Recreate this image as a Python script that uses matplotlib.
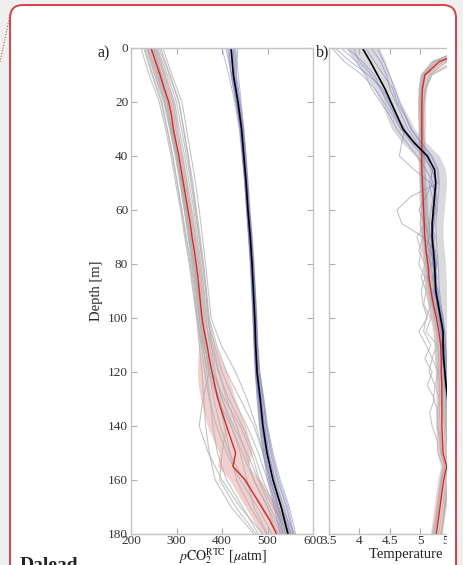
import matplotlib
matplotlib.use("Agg")
import matplotlib.pyplot as plt
from matplotlib.patches import FancyBboxPatch, Rectangle
from matplotlib.lines import Line2D

plt.rcParams['font.family'] = ['Liberation Serif', 'DejaVu Serif']
plt.rcParams['mathtext.fontset'] = 'stix'

depth10 = list(range(0, 181, 10))
depth5 = list(range(0, 181, 5))

# ---- panel a: pCO2 profiles ----
pco2_red_mean = [244, 254, 264, 273, 283, 289, 293, 299, 305, 310, 315, 320, 325, 330, 334, 339, 343,
                 347, 350, 353, 356, 361, 367, 372, 378, 384, 391, 400, 410, 420, 430, 424, 451, 469,
                 487, 505, 520]
pco2_red_sd = [14, 14, 14, 13, 12, 11, 10, 10, 10, 10, 10, 10, 10, 10, 10, 10, 10, 10, 10, 10, 10, 14,
               18, 25, 32, 36, 38, 40, 42, 40, 36, 33, 34, 35, 36, 36, 36]
pco2_gray = [
    [230, 248, 268, 280, 292, 302, 312, 322, 332, 340, 346, 354, 362, 372, 388, 410, 440, 478, 510],
    [255, 275, 296, 306, 318, 328, 338, 346, 354, 361, 368, 380, 394, 410, 432, 452, 470, 500, 530],
    [238, 258, 276, 288, 300, 311, 321, 330, 339, 347, 353, 362, 372, 382, 396, 416, 448, 490, 525],
    [262, 284, 305, 316, 326, 336, 344, 352, 360, 366, 372, 388, 410, 440, 470, 490, 505, 525, 545],
    [222, 240, 262, 276, 288, 298, 309, 318, 328, 336, 344, 350, 356, 360, 364, 372, 385, 420, 470],
    [248, 268, 288, 298, 310, 320, 330, 339, 348, 355, 362, 376, 392, 415, 445, 470, 490, 515, 540],
    [235, 252, 272, 285, 298, 309, 318, 327, 336, 344, 350, 358, 366, 374, 380, 390, 410, 445, 480],
    [270, 290, 312, 322, 332, 342, 350, 357, 364, 370, 376, 398, 430, 455, 475, 490, 505, 530, 560],
    [245, 262, 280, 290, 302, 312, 322, 331, 340, 348, 355, 364, 372, 358, 350, 370, 400, 440, 490],
    [252, 272, 292, 302, 313, 323, 333, 342, 351, 358, 365, 372, 382, 400, 425, 455, 480, 505, 535],
    [228, 246, 266, 279, 291, 301, 311, 320, 330, 338, 345, 356, 370, 390, 420, 440, 455, 470, 500],
    [258, 280, 300, 311, 322, 332, 341, 349, 357, 364, 370, 384, 400, 425, 455, 480, 500, 520, 550],
    [242, 260, 279, 290, 301, 311, 320, 329, 337, 345, 351, 360, 374, 395, 410, 400, 395, 430, 475],
    [265, 286, 306, 315, 325, 334, 342, 350, 358, 365, 370, 376, 385, 400, 420, 445, 470, 500, 520],
    [250, 266, 284, 294, 306, 317, 327, 336, 345, 352, 359, 368, 378, 392, 405, 418, 432, 462, 498],
    [236, 256, 274, 287, 299, 308, 317, 326, 334, 342, 349, 360, 378, 405, 440, 465, 482, 512, 548],
]
pco2_black_mean = [420, 425, 435, 443, 448, 453, 457, 462, 466, 469, 472, 474, 477, 484, 490, 499, 512, 530, 545]
pco2_black_sd = [8, 6, 5, 5, 5, 5, 5, 5, 5, 5, 5, 5, 6, 8, 9, 10, 11, 12, 12]
pco2_blue = [
    [412, 420, 430, 440, 446, 451, 455, 460, 464, 467, 470, 472, 475, 480, 486, 494, 506, 522, 535],
    [428, 432, 440, 447, 452, 456, 460, 465, 469, 472, 475, 477, 481, 490, 497, 507, 522, 542, 556],
    [400, 415, 428, 438, 444, 450, 454, 459, 463, 466, 469, 471, 474, 479, 484, 492, 503, 518, 532],
    [435, 430, 438, 445, 450, 455, 459, 464, 468, 471, 474, 476, 479, 487, 494, 503, 517, 536, 552],
    [418, 424, 433, 441, 447, 452, 456, 461, 465, 468, 471, 473, 476, 482, 488, 496, 508, 524, 540],
    [424, 428, 437, 446, 451, 455, 460, 465, 469, 473, 476, 479, 483, 492, 500, 512, 528, 548, 562],
    [408, 422, 432, 441, 446, 451, 455, 459, 463, 466, 468, 470, 473, 477, 482, 490, 500, 515, 528],
    [430, 436, 442, 448, 453, 457, 461, 466, 470, 473, 476, 478, 482, 490, 498, 510, 525, 545, 558],
    [415, 420, 431, 440, 445, 450, 454, 458, 462, 465, 468, 471, 474, 481, 488, 498, 512, 530, 546],
    [426, 427, 436, 444, 449, 454, 458, 463, 467, 470, 473, 475, 478, 486, 493, 502, 515, 532, 550],
]

# ---- panel b: temperature profiles ----
temp_black_mean = [4.05, 4.18, 4.30, 4.42, 4.52, 4.62, 4.72, 4.90, 5.12, 5.24, 5.26, 5.24, 5.22, 5.20,
                   5.20, 5.22, 5.24, 5.25, 5.26, 5.30, 5.34, 5.38, 5.38, 5.39, 5.41, 5.43, 5.46, 5.50,
                   5.55, 5.60, 5.64, 5.68, 5.70, 5.72, 5.74, 5.76, 5.78]
temp_black_sd = [0.28, 0.25, 0.2, 0.18, 0.16, 0.18, 0.19, 0.2, 0.2, 0.18, 0.18, 0.18, 0.18, 0.18, 0.18,
                 0.18, 0.18, 0.18, 0.18, 0.17, 0.16, 0.15, 0.15, 0.15, 0.15, 0.15, 0.15, 0.15, 0.15,
                 0.15, 0.15, 0.15, 0.15, 0.15, 0.15, 0.15, 0.15]
temp_blue = [
    [3.55, 3.75, 4.05, 4.25, 4.40, 4.55, 4.68, 4.85, 5.05, 5.20, 5.25, 5.22, 5.18, 5.15, 5.18, 5.20, 5.22,
     5.24, 5.25, 5.28, 5.32, 5.36, 5.37, 5.38, 5.40, 5.42, 5.45, 5.49, 5.54, 5.58, 5.62, 5.66, 5.68, 5.70,
     5.72, 5.74, 5.76],
    [3.70, 3.95, 4.10, 4.20, 4.35, 4.50, 4.62, 4.78, 4.95, 5.10, 5.22, 5.25, 5.20, 5.24, 5.18, 5.25, 5.20,
     5.28, 5.22, 5.30, 5.33, 5.36, 5.40, 5.38, 5.42, 5.44, 5.47, 5.52, 5.56, 5.61, 5.66, 5.70, 5.72, 5.74,
     5.76, 5.78, 5.80],
    [4.10, 4.25, 4.40, 4.55, 4.62, 4.75, 4.85, 5.00, 5.18, 5.28, 5.30, 4.85, 4.62, 4.70, 5.05, 5.25, 5.28,
     5.22, 5.30, 5.33, 5.38, 5.40, 5.42, 5.44, 5.45, 5.47, 5.50, 5.53, 5.58, 5.62, 5.66, 5.70, 5.72, 5.74,
     5.76, 5.78, 5.80],
    [4.20, 4.35, 4.45, 4.50, 4.60, 4.70, 4.80, 4.95, 5.15, 5.22, 5.15, 5.20, 5.28, 5.18, 5.25, 5.15, 5.28,
     5.20, 5.30, 5.28, 5.36, 5.35, 5.40, 5.42, 5.40, 5.45, 5.44, 5.48, 5.52, 5.58, 5.62, 5.66, 5.68, 5.70,
     5.73, 5.75, 5.77],
    [3.90, 4.00, 4.20, 4.35, 4.48, 4.58, 4.70, 4.88, 5.10, 5.20, 5.28, 5.26, 5.24, 5.22, 5.22, 5.24, 5.26,
     5.27, 5.28, 5.32, 5.36, 5.40, 5.39, 5.41, 5.43, 5.45, 5.48, 5.52, 5.57, 5.62, 5.66, 5.70, 5.72, 5.74,
     5.76, 5.78, 5.80],
    [3.60, 3.85, 4.15, 4.38, 4.50, 4.62, 4.75, 4.70, 4.66, 4.90, 5.18, 5.28, 5.25, 5.22, 5.20, 5.18, 5.22,
     5.26, 5.24, 5.30, 5.32, 5.38, 5.36, 5.38, 5.41, 5.43, 5.46, 5.50, 5.55, 5.60, 5.64, 5.68, 5.70, 5.72,
     5.74, 5.76, 5.78],
    [4.30, 4.40, 4.50, 4.58, 4.66, 4.76, 4.86, 5.02, 5.20, 5.30, 5.32, 5.30, 5.28, 5.26, 5.27, 5.28, 5.30,
     5.31, 5.32, 5.35, 5.38, 5.41, 5.42, 5.43, 5.45, 5.47, 5.50, 5.54, 5.58, 5.62, 5.67, 5.71, 5.73, 5.75,
     5.77, 5.79, 5.81],
    [3.80, 4.05, 4.25, 4.35, 4.45, 4.60, 4.74, 4.92, 5.08, 5.18, 5.20, 5.10, 4.98, 5.08, 5.15, 5.10, 5.18,
     5.12, 5.20, 5.24, 5.30, 5.34, 5.35, 5.37, 5.39, 5.41, 5.44, 5.48, 5.53, 5.58, 5.62, 5.66, 5.68, 5.70,
     5.72, 5.74, 5.76],
]
temp_red_mean = [5.90, 5.32, 5.08, 5.04, 5.03, 5.03, 5.03, 5.03, 5.03, 5.03, 5.04, 5.05, 5.06, 5.07, 5.08,
                 5.10, 5.13, 5.15, 5.18, 5.22, 5.27, 5.31, 5.34, 5.35, 5.35, 5.36, 5.36, 5.36, 5.36, 5.37,
                 5.38, 5.44, 5.39, 5.36, 5.33, 5.30, 5.27]
temp_red_sd = [0.15, 0.12, 0.08, 0.07, 0.06, 0.06, 0.06, 0.06, 0.06, 0.06, 0.06, 0.07, 0.07, 0.08, 0.08,
               0.08, 0.08, 0.09, 0.09, 0.09, 0.1, 0.1, 0.1, 0.1, 0.1, 0.1, 0.1, 0.1, 0.1, 0.1, 0.1, 0.1,
               0.1, 0.1, 0.1, 0.1, 0.1]
temp_gray = [
    [6.0, 5.45, 5.15, 5.08, 5.06, 5.05, 5.05, 5.06, 5.06, 5.07, 5.08, 5.09, 5.10, 5.12, 5.14, 5.16, 5.18,
     5.22, 5.25, 5.28, 5.32, 5.36, 5.38, 5.40, 5.41, 5.42, 5.42, 5.43, 5.43, 5.44, 5.45, 5.48, 5.45, 5.42,
     5.40, 5.38, 5.35],
    [5.8, 5.20, 5.02, 4.99, 4.98, 4.98, 4.99, 4.99, 5.00, 5.00, 5.01, 5.02, 5.03, 5.00, 5.05, 4.98, 5.08,
     5.02, 5.10, 5.06, 5.18, 5.10, 5.28, 5.20, 5.30, 5.25, 5.32, 5.28, 5.30, 5.34, 5.36, 5.40, 5.35, 5.32,
     5.29, 5.26, 5.22],
    [6.2, 5.60, 5.20, 5.10, 5.07, 5.06, 5.06, 5.07, 5.07, 5.08, 5.09, 5.11, 5.12, 5.14, 5.16, 5.18, 5.22,
     5.25, 5.28, 5.32, 5.36, 5.38, 5.40, 5.41, 5.42, 5.43, 5.44, 5.44, 5.45, 5.46, 5.47, 5.50, 5.47, 5.44,
     5.41, 5.38, 5.34],
    [5.7, 5.25, 5.05, 5.02, 5.01, 5.01, 5.01, 5.02, 5.02, 5.03, 5.04, 5.05, 5.06, 5.08, 4.95, 5.02, 4.98,
     5.08, 5.02, 5.05, 5.12, 4.98, 5.10, 5.20, 5.15, 5.25, 5.22, 5.30, 5.28, 5.32, 5.34, 5.42, 5.36, 5.34,
     5.32, 5.28, 5.25],
    [6.1, 5.38, 5.10, 5.05, 5.04, 5.04, 5.04, 5.04, 5.05, 5.05, 5.06, 5.07, 5.08, 5.10, 5.12, 5.14, 5.16,
     5.19, 5.22, 5.26, 5.30, 5.34, 5.36, 5.37, 5.38, 5.38, 5.39, 5.39, 5.40, 5.41, 5.42, 5.46, 5.42, 5.40,
     5.37, 5.34, 5.31],
    [5.85, 5.28, 5.06, 5.02, 5.01, 5.01, 5.02, 5.02, 5.02, 5.03, 5.03, 5.04, 5.05, 5.06, 5.07, 5.08, 5.10,
     5.12, 5.15, 5.18, 5.10, 5.06, 5.18, 5.08, 5.20, 5.12, 5.24, 5.16, 5.20, 5.28, 5.30, 5.38, 5.34, 5.31,
     5.28, 5.25, 5.20],
    [6.3, 5.55, 5.18, 5.09, 5.06, 5.05, 5.05, 5.05, 5.06, 5.06, 5.07, 5.08, 5.09, 5.11, 5.13, 5.15, 5.18,
     5.21, 5.24, 5.28, 5.33, 5.37, 5.39, 5.40, 5.41, 5.41, 5.42, 5.42, 5.43, 5.44, 5.46, 5.52, 5.48, 5.45,
     5.42, 5.38, 5.35],
    [5.75, 5.22, 5.04, 5.00, 4.99, 5.00, 5.00, 5.00, 5.01, 5.01, 5.02, 5.03, 5.04, 5.05, 5.06, 5.08, 5.11,
     5.14, 5.17, 5.20, 5.24, 5.28, 5.30, 5.31, 5.31, 5.32, 5.32, 5.32, 5.33, 5.34, 5.35, 5.41, 5.36, 5.33,
     5.30, 5.27, 5.24],
]

depth_ticks = [0, 20, 40, 60, 80, 100, 120, 140, 160, 180]
pco2_ticks = [200, 300, 400, 500, 600]
temp_ticks = [3.5, 4, 4.5, 5, 5.5, 6, 6.5]

GRAY = '#b0b0b0'
BLUE = '#7c7cc4'
PINK = '#eaa8a8'
SHADE = '#bcbcbc'
RED = '#d42a2a'
W, H = 463, 565


def band(ax, mean, sd, depth, color):
    lo = [m - s for m, s in zip(mean, sd)]
    hi = [m + s for m, s in zip(mean, sd)]
    ax.fill_betweenx(depth, lo, hi, color=color, alpha=0.55, lw=0)


def style(ax):
    ax.set_ylim(180, 0)
    ax.set_yticks(depth_ticks)
    for s in ax.spines.values():
        s.set_color('#c4c4c4')
        s.set_linewidth(1.0)
    ax.tick_params(direction='in', length=4, width=0.8, color='#b0b0b0', top=True, right=True,
                   labelsize=9.5, labelcolor='#333333', pad=2)
    ax.tick_params(axis='x', pad=0.5)


fig = plt.figure(figsize=(W / 100, H / 100), dpi=100)
fig.patch.set_facecolor('#efefef')

# card behind the figure
card = FancyBboxPatch((0.10, -0.5), 4.46, 6.10, boxstyle='round,pad=0,rounding_size=0.13',
                      transform=fig.dpi_scale_trans, facecolor='white', edgecolor='#d8414a',
                      lw=1.4, zorder=-1)
fig.add_artist(card)
fig.add_artist(Line2D([0.10, 0.0], [5.50, 5.03], transform=fig.dpi_scale_trans, color='#d8414a',
                      lw=0.8, ls=(0, (1, 1.5)), zorder=-1))

# panel a
ax1 = fig.add_axes([131 / W, 1 - 534 / H, 182 / W, 486 / H])
band(ax1, pco2_red_mean, pco2_red_sd, depth5, PINK)
band(ax1, pco2_black_mean, pco2_black_sd, depth10, SHADE)
for prof in pco2_gray:
    ax1.plot(prof, depth10, color=GRAY, lw=0.8, alpha=0.75)
for prof in pco2_blue:
    ax1.plot(prof, depth10, color=BLUE, lw=0.7, alpha=0.55)
ax1.plot(pco2_red_mean, depth5, color=RED, lw=1.0)
ax1.plot(pco2_black_mean, depth10, color='black', lw=1.2)
ax1.set_xlim(200, 600)
ax1.set_xticks(pco2_ticks)
style(ax1)
ax1.set_ylabel('Depth [m]', fontsize=10.5, color='#222222', labelpad=4)
fig.text(222 / W, 1 - 560 / H, r'$p\mathrm{CO}_2^{\mathrm{RTC}}$ [$\mu$atm]', fontsize=10,
         color='#222222', ha='center', va='baseline')
fig.text(98 / W, 1 - 53 / H, 'a)', fontsize=11.5, color='#222222', va='center')

# panel b
ax2 = fig.add_axes([329 / W, 1 - 534 / H, 182 / W, 486 / H])
band(ax2, temp_red_mean, temp_red_sd, depth5, PINK)
band(ax2, temp_black_mean, temp_black_sd, depth5, SHADE)
for prof in temp_gray:
    ax2.plot(prof, depth5, color=GRAY, lw=0.8, alpha=0.75)
for prof in temp_blue:
    ax2.plot(prof, depth5, color=BLUE, lw=0.7, alpha=0.55)
ax2.plot(temp_red_mean, depth5, color=RED, lw=1.0)
ax2.plot(temp_black_mean, depth5, color='black', lw=1.2)
ax2.set_xlim(3.5, 6.5)
ax2.set_xticks(temp_ticks)
ax2.set_xticklabels(['3.5', '4', '4.5', '5', '5.5', '6', '6.5'])
style(ax2)
ax2.set_yticklabels([])
fig.text(420 / W, 1 - 558 / H, 'Temperature [°C]', fontsize=10.5, color='#222222',
         ha='center', va='baseline', zorder=5)
fig.text(316 / W, 1 - 52 / H, 'b)', fontsize=11.5, color='#222222', va='center')

# the page crops the figure on the right
fig.add_artist(Rectangle((4.47, 0), 0.09, 5.25, transform=fig.dpi_scale_trans,
                         facecolor='white', edgecolor='none', zorder=10))
fig.add_artist(Rectangle((4.565, 0), 0.10, 5.25, transform=fig.dpi_scale_trans,
                         facecolor='#efefef', edgecolor='none', zorder=10))
fig.add_artist(Line2D([4.56, 4.56], [0, 5.3], transform=fig.dpi_scale_trans, color='#d8414a',
                      lw=1.4, zorder=11))

fig.text(20 / W, 1 - 566 / H, 'Dalead', fontsize=14, fontweight='bold', color='#222222',
         va='center')

fig.savefig('out.png', dpi=100)
